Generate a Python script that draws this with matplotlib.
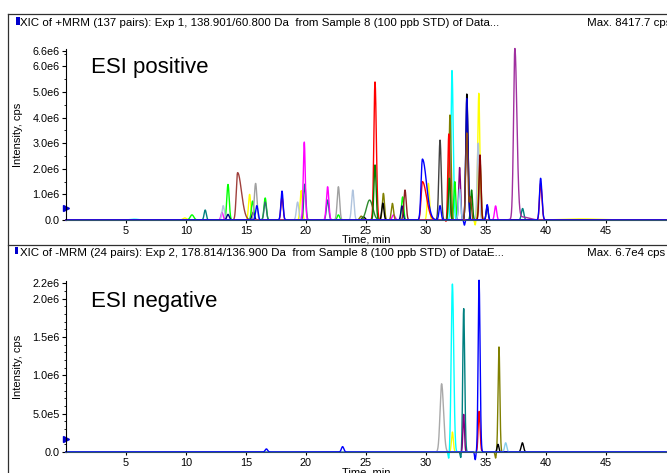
import numpy as np
import matplotlib
matplotlib.use("Agg")
import matplotlib.pyplot as plt
from matplotlib.lines import Line2D
from matplotlib.patches import Rectangle
from matplotlib.ticker import FixedLocator, MultipleLocator

plt.rcParams['font.family'] = ['Liberation Sans', 'DejaVu Sans']

# ---------------- data: ESI positive (top) ----------------
pos_rt = [5.7, 9.9, 10.5, 11.6, 13.0, 13.1, 13.5, 13.5, 14.3, 15.3, 15.55, 15.6, 15.8, 15.9,
          16.6, 16.6, 18.0, 18.0, 19.3, 19.6, 19.86, 19.9, 21.8, 21.8, 22.7, 22.7, 23.9,
          24.6, 24.8, 25.3, 25.75, 25.75, 26.45, 26.4, 27.2, 27.3, 28.25, 28.05, 28.0,
          29.7, 29.7, 30.2, 31.17, 31.17, 31.9, 32.0, 31.95, 32.4, 32.17, 32.8, 32.8,
          33.4, 33.4, 33.4, 33.8, 33.7, 34.4, 34.5, 34.5, 34.35, 35.1, 35.1, 35.8,
          37.4, 38.0, 38.05, 39.55, 39.55, 43.0,
          19.95, 25.6, 31.7, 32.25, 33.2, 34.1, 37.3]
pos_height = [0.03e6, 0.08e6, 0.2e6, 0.39e6, 0.3e6, 0.56e6, 1.39e6, 0.22e6, 1.85e6, 1.0e6, 0.74e6, 0.3e6, 1.43e6, 0.56e6,
              0.86e6, 0.7e6, 1.13e6, 0.9e6, 0.7e6, 1.15e6, 3.09e6, 1.4e6, 1.3e6, 0.78e6, 1.3e6, 0.2e6, 1.17e6,
              0.15e6, 0.12e6, 0.78e6, 5.4e6, 2.15e6, 1.04e6, 0.66e6, 0.65e6, 0.2e6, 1.17e6, 0.9e6, 0.55e6,
              2.38e6, 1.5e6, 1.43e6, 3.12e6, 0.56e6, 3.36e6, 4.1e6, 1.63e6, 1.5e6, 5.88e6, 2.05e6, 1.2e6,
              4.92e6, 4.75e6, 3.4e6, 1.17e6, 0.9e6, 4.95e6, 2.54e6, 2.3e6, 3.0e6, 0.6e6, 0.55e6, 0.55e6,
              6.7e6, 0.12e6, 0.45e6, 1.63e6, 1.43e6, 0.04e6,
              -0.25e6, -0.2e6, -0.12e6, -0.15e6, -0.2e6, -0.2e6, -0.3e6]
pos_sigma_l = [0.35, 0.15, 0.15, 0.09, 0.09, 0.1, 0.1, 0.1, 0.11, 0.09, 0.1, 0.1, 0.11, 0.1,
               0.1, 0.1, 0.09, 0.09, 0.1, 0.09, 0.085, 0.09, 0.1, 0.1, 0.1, 0.1, 0.1,
               0.12, 0.12, 0.26, 0.1, 0.09, 0.09, 0.09, 0.09, 0.12, 0.1, 0.09, 0.09,
               0.11, 0.11, 0.09, 0.1, 0.09, 0.08, 0.09, 0.08, 0.08, 0.085, 0.08, 0.09,
               0.085, 0.085, 0.09, 0.08, 0.08, 0.085, 0.08, 0.09, 0.09, 0.08, 0.08, 0.09,
               0.11, 0.55, 0.1, 0.09, 0.09, 1.5,
               0.05, 0.06, 0.05, 0.05, 0.05, 0.05, 0.06]
pos_sigma_r = [0.35, 0.15, 0.15, 0.09, 0.09, 0.1, 0.1, 0.1, 0.32, 0.09, 0.1, 0.1, 0.11, 0.1,
               0.1, 0.1, 0.09, 0.09, 0.1, 0.09, 0.085, 0.09, 0.1, 0.1, 0.1, 0.1, 0.1,
               0.12, 0.12, 0.26, 0.11, 0.09, 0.09, 0.09, 0.09, 0.12, 0.1, 0.09, 0.09,
               0.34, 0.34, 0.09, 0.1, 0.09, 0.08, 0.09, 0.08, 0.08, 0.1, 0.08, 0.09,
               0.1, 0.1, 0.09, 0.08, 0.08, 0.085, 0.08, 0.09, 0.09, 0.08, 0.08, 0.09,
               0.17, 0.55, 0.1, 0.11, 0.11, 1.5,
               0.05, 0.06, 0.05, 0.05, 0.05, 0.05, 0.06]
pos_color = ['#00FFFF', '#FFFF00', '#00FF00', '#008080', '#FF00FF', '#B0C4DE', '#00FF00', '#000080', '#A0403C',
             '#FFFF00', '#00FF00', '#000080', '#A0A0A0', '#0000FF',
             '#00FF00', '#2F6F6F', '#0000FF', '#C00040', '#B0C4DE', '#FFFF00', '#FF00FF', '#008080',
             '#FF00FF', '#008080', '#A0A0A0', '#00FF00', '#B0C4DE',
             '#808000', '#000000', '#2E8B2E', '#FF0000', '#008000', '#808000', '#000000', '#808000',
             '#FF00FF', '#8B2020', '#00FF00', '#000080',
             '#0000FF', '#FF0000', '#FFFF00', '#404040', '#0000FF', '#FF0000', '#808000', '#008000',
             '#00FF00', '#00FFFF', '#800080', '#87CEEB',
             '#000000', '#0000CD', '#8B4513', '#008000', '#8B4513', '#FFFF00', '#8B0000', '#808000',
             '#B0C4DE', '#0000FF', '#000000', '#FF00FF',
             '#A0309F', '#A0309F', '#008080', '#0000FF', '#FF0000', '#FFFF00',
             '#FF00FF', '#FF0000', '#FF0000', '#00FFFF', '#0000FF', '#FFFF00', '#A0309F']

# ---------------- data: ESI negative (bottom) ----------------
neg_rt = [16.7, 23.05, 31.3, 32.2, 32.2, 33.14, 33.14, 34.42, 34.42, 36.08, 36.0, 36.64, 38.03,
          31.9, 32.9, 34.1, 35.8]
neg_height = [0.04e6, 0.07e6, 0.89e6, 0.26e6, 2.19e6, 1.87e6, 0.49e6, 2.24e6, 0.53e6, 1.37e6, 0.1e6, 0.12e6, 0.12e6,
              -0.1e6, -0.08e6, -0.1e6, -0.08e6]
neg_sigma_l = [0.1, 0.1, 0.13, 0.08, 0.1, 0.075, 0.065, 0.075, 0.075, 0.075, 0.075, 0.09, 0.1,
               0.05, 0.05, 0.05, 0.05]
neg_sigma_r = [0.1, 0.1, 0.16, 0.08, 0.11, 0.085, 0.065, 0.085, 0.085, 0.075, 0.075, 0.09, 0.1,
               0.05, 0.05, 0.05, 0.05]
neg_color = ['#0000FF', '#0000FF', '#A9A9A9', '#FFFF00', '#00FFFF', '#008080', '#800080', '#0000FF', '#FF0000',
             '#808000', '#000000', '#87CEEB', '#000000',
             '#00FFFF', '#008080', '#0000FF', '#808000']

pos_yticks = [0, 1.0e6, 2.0e6, 3.0e6, 4.0e6, 5.0e6, 6.0e6, 6.6e6]
pos_yticklabels = ['0.0', '1.0e6', '2.0e6', '3.0e6', '4.0e6', '5.0e6', '6.0e6', '6.6e6']
neg_yticks = [0, 0.5e6, 1.0e6, 1.5e6, 2.0e6, 2.2e6]
neg_yticklabels = ['0.0', '5.0e5', '1.0e6', '1.5e6', '2.0e6', '2.2e6']
xticks = [5, 10, 15, 20, 25, 30, 35, 40, 45]

pos_header = "XIC of +MRM (137 pairs): Exp 1, 138.901/60.800 Da  from Sample 8 (100 ppb STD) of Data..."
neg_header = "XIC of -MRM (24 pairs): Exp 2, 178.814/136.900 Da  from Sample 8 (100 ppb STD) of DataE..."
pos_max = "Max. 8417.7 cps"
neg_max = "Max. 6.7e4 cps"
pos_title = "ESI positive"
neg_title = "ESI negative"
pos_marker_y = 0.47e6
neg_marker_y = 0.17e6

W, H = 667, 473
fig = plt.figure(figsize=(W / 100, H / 100), dpi=100)

t = np.linspace(0, 50, 10001)


def build_traces(rt, h, sl, sr, col):
    traces = {}
    for c, a, s1, s2, k in zip(rt, h, sl, sr, col):
        s = np.where(t < c, s1, s2)
        y = a * np.exp(-0.5 * ((t - c) / s) ** 2)
        traces.setdefault(k, np.zeros_like(t))
        traces[k] = traces[k] + y
    return traces


def px2fig(x, y):
    return x / W, 1 - y / H


def make_axes(top_px, bot_px, ymax, traces, yticks, yticklabels, minor, title, title_y, xlabel_y, marker_y):
    left, bottom = px2fig(66, bot_px)
    ax = fig.add_axes([left, bottom, 600 / W, (bot_px - top_px) / H])
    order = [k for k in traces if k.upper() != '#0000FF'] + [k for k in traces if k.upper() == '#0000FF']
    for k in order:
        ax.plot(t, traces[k], color=k, lw=1.0, clip_on=False, solid_joinstyle='round')
    ax.set_xlim(0, 50)
    ax.set_ylim(0, ymax)
    for s in ['top', 'right']:
        ax.spines[s].set_visible(False)
    for s in ['left', 'bottom']:
        ax.spines[s].set_linewidth(0.8)
    ax.spines['bottom'].set_color('#2F4F6F')
    ax.yaxis.set_major_locator(FixedLocator(yticks))
    ax.set_yticklabels(yticklabels)
    ax.yaxis.set_minor_locator(MultipleLocator(minor))
    ax.xaxis.set_major_locator(FixedLocator(xticks))
    ax.set_xticklabels([str(v) for v in xticks])
    ax.tick_params(axis='y', which='major', length=3, width=0.8, labelsize=7.8, pad=1.5)
    ax.tick_params(axis='y', which='minor', length=1.5, width=0.6)
    ax.tick_params(axis='x', which='major', length=2, width=0.8, labelsize=7.8, pad=2)
    ax.set_ylabel("Intensity, cps", fontsize=8, va='center')
    ax.yaxis.set_label_coords(-48 / 600, 0.5)
    ax.set_xlabel("Time, min", fontsize=8, va='center')
    ax.xaxis.set_label_coords(0.5, -xlabel_y / (bot_px - top_px))
    ax.text(25 / 600, title_y, title, transform=ax.transAxes, fontsize=16, va='baseline', ha='left')
    ax.plot([0], [marker_y], marker='>', color='#0000CC', ms=4, clip_on=False, ls='none')
    return ax


pos_tr = build_traces(pos_rt, pos_height, pos_sigma_l, pos_sigma_r, pos_color)
neg_tr = build_traces(neg_rt, neg_height, neg_sigma_l, neg_sigma_r, neg_color)

make_axes(49, 220, 6.68e6, pos_tr, pos_yticks, pos_yticklabels, 0.5e6, pos_title,
          (220 - 72.5) / 171, 20, pos_marker_y)
make_axes(281, 452, 2.23e6, neg_tr, neg_yticks, neg_yticklabels, 0.1e6, neg_title,
          (452 - 306.7) / 171, 20.5, neg_marker_y)

# panel frames
frame_kw = dict(color='#303030', lw=0.9, transform=fig.transFigure)
fig.add_artist(Line2D([8 / W, 8 / W], [1 - 14 / H, 0], **frame_kw))
fig.add_artist(Line2D([8 / W, 1], [1 - 14 / H, 1 - 14 / H], **frame_kw))
fig.add_artist(Line2D([8 / W, 1], [1 - 245 / H, 1 - 245 / H], **frame_kw))

# headers
for yc, txt, mx, sq in [(22.7, pos_header, pos_max, (16, 17.3)), (253, neg_header, neg_max, (14.5, 247))]:
    fx, fy = px2fig(20.5, yc)
    fig.text(fx, fy, txt, fontsize=8.25, va='center', ha='left')
    mx_x, _ = px2fig(587, yc)
    fig.text(mx_x, fy, mx, fontsize=8.25, va='center', ha='left')
    rx, ry = px2fig(sq[0], sq[1] + 7.5)
    fig.add_artist(Rectangle((rx, ry), 3.5 / W, 7.5 / H, transform=fig.transFigure,
                             color='#0000CC', lw=0))

fig.savefig("out.png", dpi=100)
